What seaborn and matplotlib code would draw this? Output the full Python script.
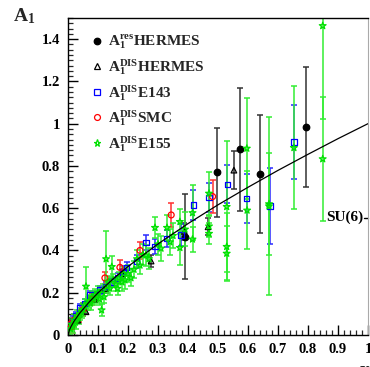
import numpy as np
import pandas as pd
import matplotlib
matplotlib.use("Agg")
import matplotlib.pyplot as plt
import seaborn as sns
from matplotlib.lines import Line2D
from matplotlib.ticker import MultipleLocator

# ---------------- data ----------------
res_x = [0.390, 0.498, 0.572, 0.641, 0.792]
res_y = [0.465, 0.770, 0.878, 0.762, 0.985]
res_e = [0.200, 0.210, 0.290, 0.280, 0.285]

hdis_x = [0.033, 0.060, 0.090, 0.125, 0.180, 0.277, 0.388, 0.467, 0.553]
hdis_y = [0.070, 0.110, 0.170, 0.220, 0.290, 0.350, 0.490, 0.512, 0.780]
hdis_e = [0.010, 0.012, 0.015, 0.020, 0.020, 0.030, 0.040, 0.040, 0.090]

e143_x = [0.007, 0.015, 0.025, 0.040, 0.055, 0.073, 0.090, 0.107, 0.125, 0.145,
          0.165, 0.183, 0.196, 0.229, 0.260, 0.290, 0.329, 0.377, 0.418, 0.470,
          0.531, 0.596, 0.673, 0.753]
e143_y = [0.047, 0.070, 0.090, 0.128, 0.150, 0.190, 0.190, 0.213, 0.230, 0.250,
          0.270, 0.300, 0.320, 0.347, 0.437, 0.418, 0.457, 0.473, 0.615, 0.651,
          0.713, 0.646, 0.610, 0.914]
e143_e = [0.020, 0.020, 0.020, 0.020, 0.020, 0.020, 0.020, 0.020, 0.020, 0.020,
          0.025, 0.025, 0.025, 0.030, 0.035, 0.035, 0.040, 0.050, 0.070, 0.070,
          0.090, 0.115, 0.180, 0.175]

smc_x = [0.007, 0.012, 0.020, 0.035, 0.050, 0.080, 0.123, 0.173, 0.240, 0.344, 0.482]
smc_y = [0.050, 0.040, 0.070, 0.090, 0.120, 0.170, 0.270, 0.320, 0.400, 0.568, 0.655]
smc_e = [0.030, 0.030, 0.030, 0.030, 0.030, 0.030, 0.030, 0.035, 0.040, 0.055, 0.080]

e155_x = [0.008, 0.012, 0.015, 0.020, 0.025, 0.030, 0.035, 0.040, 0.045, 0.050,
          0.055, 0.060, 0.065, 0.070, 0.075, 0.080, 0.085, 0.090, 0.095, 0.100,
          0.105, 0.112, 0.115, 0.120, 0.127, 0.130, 0.135, 0.140, 0.146, 0.150,
          0.160, 0.165, 0.170, 0.180, 0.185, 0.190, 0.200, 0.210, 0.220, 0.230,
          0.240, 0.250, 0.260, 0.270, 0.290, 0.300, 0.310, 0.330, 0.340, 0.350,
          0.373, 0.373, 0.390, 0.415, 0.415, 0.470, 0.470, 0.470, 0.529, 0.529,
          0.529, 0.596, 0.597, 0.670, 0.670, 0.753, 0.849, 0.849]
e155_y = [0.030, 0.050, 0.040, 0.070, 0.060, 0.090, 0.080, 0.100, 0.110, 0.120,
          0.140, 0.230, 0.150, 0.160, 0.150, 0.180, 0.170, 0.190, 0.180, 0.200,
          0.170, 0.118, 0.210, 0.180, 0.360, 0.230, 0.250, 0.220, 0.323, 0.260,
          0.240, 0.220, 0.270, 0.250, 0.290, 0.260, 0.290, 0.270, 0.310, 0.360,
          0.330, 0.380, 0.378, 0.360, 0.508, 0.430, 0.410, 0.508, 0.440, 0.470,
          0.536, 0.413, 0.500, 0.578, 0.453, 0.670, 0.515, 0.480, 0.607, 0.418,
          0.386, 0.883, 0.590, 0.610, 0.620, 0.886, 0.833, 1.463]
e155_e = [0.030, 0.030, 0.030, 0.030, 0.030, 0.030, 0.030, 0.030, 0.030, 0.030,
          0.030, 0.090, 0.030, 0.030, 0.030, 0.030, 0.030, 0.030, 0.030, 0.030,
          0.030, 0.030, 0.030, 0.030, 0.130, 0.030, 0.030, 0.030, 0.050, 0.030,
          0.030, 0.030, 0.030, 0.040, 0.030, 0.040, 0.040, 0.040, 0.040, 0.040,
          0.040, 0.050, 0.050, 0.050, 0.050, 0.050, 0.060, 0.060, 0.060, 0.060,
          0.060, 0.080, 0.080, 0.130, 0.060, 0.100, 0.050, 0.050, 0.310, 0.160,
          0.130, 0.240, 0.185, 0.420, 0.240, 0.290, 0.295, 0.440]

fit_x = [0.0, 0.005, 0.01, 0.02, 0.04, 0.07, 0.1, 0.15, 0.2, 0.3, 0.4, 0.5,
         0.6, 0.7, 0.8, 0.9, 1.0]
fit_y = [0.0, 0.0245, 0.0398, 0.0648, 0.105, 0.155, 0.1995, 0.265, 0.324, 0.431,
         0.527, 0.616, 0.699, 0.779, 0.855, 0.929, 1.0]

su6_value = 5.0 / 9.0

labels = [r"$\mathrm{A_1^{res}}$HERMES", r"$\mathrm{A_1^{DIS}}$HERMES",
          r"$\mathrm{A_1^{DIS}}$E143", r"$\mathrm{A_1^{DIS}}$SMC",
          r"$\mathrm{A_1^{DIS}}$E155"]

# ---------------- style ----------------
sns.set_theme(style="ticks")
plt.rcParams["font.family"] = ["Liberation Serif", "DejaVu Serif"]
plt.rcParams["font.weight"] = "bold"
plt.rcParams["mathtext.fontset"] = "custom"
plt.rcParams["mathtext.rm"] = "Liberation Serif:bold"
plt.rcParams["mathtext.it"] = "Liberation Serif:bold"
plt.rcParams["mathtext.bf"] = "Liberation Serif:bold"

fig = plt.figure(figsize=(3.70, 3.67), dpi=100)
ax = fig.add_axes([68 / 370, 32 / 367, 300 / 370, 317 / 367])

datasets = [
    dict(x=res_x, y=res_y, e=res_e, marker="o", fc="black", ec="black",
         bar="#333333", ms=22, lab=labels[0]),
    dict(x=hdis_x, y=hdis_y, e=hdis_e, marker="^", fc="none", ec="black",
         bar="#333333", ms=16, lab=labels[1]),
    dict(x=e143_x, y=e143_y, e=e143_e, marker="s", fc="none", ec="#0000ff",
         bar="#2a2aff", ms=15, lab=labels[2]),
    dict(x=smc_x, y=smc_y, e=smc_e, marker="o", fc="none", ec="#ff0000",
         bar="#ff3030", ms=18, lab=labels[3]),
    dict(x=e155_x, y=e155_y, e=e155_e, marker="*", fc="none", ec="#00e000",
         bar="#33ee33", ms=26, lab=labels[4]),
]

handles = []
for d in datasets:
    df = pd.DataFrame({"x": d["x"], "y": d["y"], "e": d["e"]})
    ax.errorbar(df["x"], df["y"], yerr=df["e"], fmt="none", ecolor=d["bar"],
                elinewidth=1.1, capsize=2.4, capthick=1.1, zorder=2)
    sns.scatterplot(data=df, x="x", y="y", ax=ax, marker=d["marker"],
                    s=d["ms"], facecolors=d["fc"],
                    edgecolor=d["ec"], linewidth=0.9, zorder=3, legend=False)
    handles.append(Line2D([], [], linestyle="none", marker=d["marker"],
                          markersize=np.sqrt(d["ms"]),
                          markerfacecolor=d["fc"], markeredgecolor=d["ec"],
                          markeredgewidth=0.9, label=d["lab"]))

sns.lineplot(x=fit_x, y=fit_y, ax=ax, color="black", linewidth=0.9,
             estimator=None, sort=False, zorder=4)

ax.set_xlim(0, 1)
ax.set_ylim(0, 1.5)
ax.xaxis.set_minor_locator(MultipleLocator(0.02))
ax.yaxis.set_minor_locator(MultipleLocator(0.025))
ax.set_xticks(np.arange(0, 1.01, 0.1))
ax.set_xticklabels(["0", "0.1", "0.2", "0.3", "0.4", "0.5", "0.6", "0.7",
                    "0.8", "0.9", "1"])
ax.set_yticks(np.arange(0, 1.41, 0.2))
ax.set_yticklabels(["0", "0.2", "0.4", "0.6", "0.8", "1", "1.2", "1.4"])
ax.tick_params(axis="both", which="major", direction="in", length=7,
               width=1.0, labelsize=10.5, pad=6, colors="black")
ax.tick_params(axis="both", which="minor", direction="in", length=3.5,
               width=0.9)
ax.tick_params(top=False, right=False, which="both")
for lab in ax.get_xticklabels() + ax.get_yticklabels():
    lab.set_fontweight("bold")
ax.set_xlabel("")
ax.set_ylabel("")
for s in ["left", "bottom", "top"]:
    ax.spines[s].set_color("black")
    ax.spines[s].set_linewidth(1.0)
ax.spines["right"].set_color("#aaaaaa")
ax.spines["right"].set_linewidth(0.8)

# SU(6) marker on the right edge
ax.plot([0.985, 1.0], [su6_value, su6_value], color="black", lw=1.0,
        clip_on=False)
ax.text(0.983, su6_value, "SU(6)", ha="right", va="center", fontsize=11,
        fontweight="bold", color="black")

leg = ax.legend(handles=handles, loc="upper left",
                bbox_to_anchor=(0.05, 0.975), frameon=False, fontsize=11,
                handlelength=0.8, handletextpad=0.35, labelspacing=0.37,
                borderpad=0.0)
for t in leg.get_texts():
    t.set_fontweight("bold")

fig.text(13 / 370, 1 - 21 / 367, r"$\mathrm{A_1}$", fontsize=14,
         va="baseline", ha="left")
fig.text(360 / 370, 1 - 362 / 367, "x", fontsize=14, fontweight="bold",
         va="top", ha="left")

fig.savefig("out.png", dpi=100)
